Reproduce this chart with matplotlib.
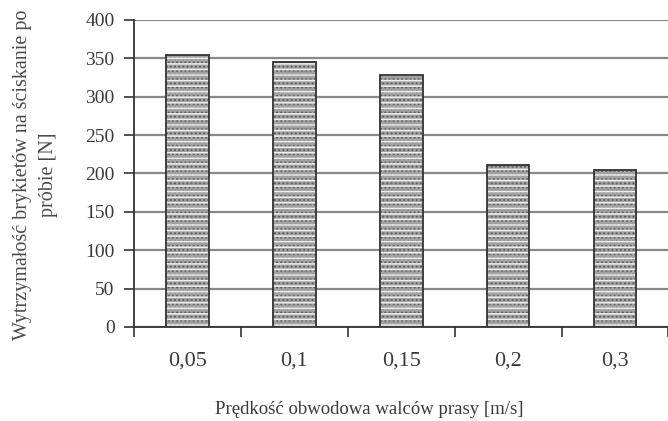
import matplotlib.pyplot as plt
import numpy as np

plt.rcParams['font.family'] = ['Liberation Serif', 'DejaVu Serif']

predkosc = ["0,05", "0,1", "0,15", "0,2", "0,3"]
wytrzymalosc = [355, 345, 328, 211, 205]
y_ticks = [0, 50, 100, 150, 200, 250, 300, 350, 400]

TEXT = "#3a3a3a"

fig = plt.figure(figsize=(6.68, 4.21), dpi=100)
ax = fig.add_axes([0.2006, 0.2233, 0.80, 0.7292])

x = np.arange(len(predkosc))
# brick-like fill: grey face, dark stipple, white dashes, then a dark outline
plt.rcParams['hatch.linewidth'] = 0.9
ax.bar(x, wytrzymalosc, width=0.4, color="#a2a2a2", edgecolor="#5e5e5e",
       hatch="....", linewidth=0, zorder=3)
plt.rcParams['hatch.linewidth'] = 1.1
ax.bar(x, wytrzymalosc, width=0.4, fill=False, edgecolor="#efefef",
       hatch="---", linewidth=0, zorder=4)
ax.bar(x, wytrzymalosc, width=0.4, fill=False, edgecolor="#333333",
       linewidth=1.3, zorder=5)

ax.set_xlim(-0.5, len(predkosc) - 0.5)
ax.set_ylim(0, 400)
ax.set_yticks(y_ticks)
ax.yaxis.grid(True, color="#888888", linewidth=1.6)
ax.set_axisbelow(True)

ax.set_xticks(x)
ax.set_xticklabels(predkosc)
ax.set_xticks(np.arange(len(predkosc) + 1) - 0.5, minor=True)
ax.tick_params(axis="x", which="major", length=0, pad=18, labelsize=16, labelcolor=TEXT)
ax.tick_params(axis="x", which="minor", length=7, width=1.2, color="#333333", direction="out")
ax.tick_params(axis="y", length=7, width=1.2, color="#333333", labelsize=14, labelcolor=TEXT, pad=7)

for side in ("top", "right"):
    ax.spines[side].set_visible(False)
for side in ("left", "bottom"):
    ax.spines[side].set_color("#333333")
    ax.spines[side].set_linewidth(1.3)

ax.set_xlabel("Prędkość obwodowa walców prasy [m/s]", fontsize=13.5, color=TEXT)
ax.xaxis.set_label_coords(0.44, -0.24)
ax.set_ylabel("Wytrzymałość brykietów na ściskanie po\npróbie [N]", fontsize=14.5,
              color="#4a4a4a", linespacing=1.5)
ax.yaxis.set_label_coords(-0.142, 0.495)

fig.savefig("out.png", dpi=100)
